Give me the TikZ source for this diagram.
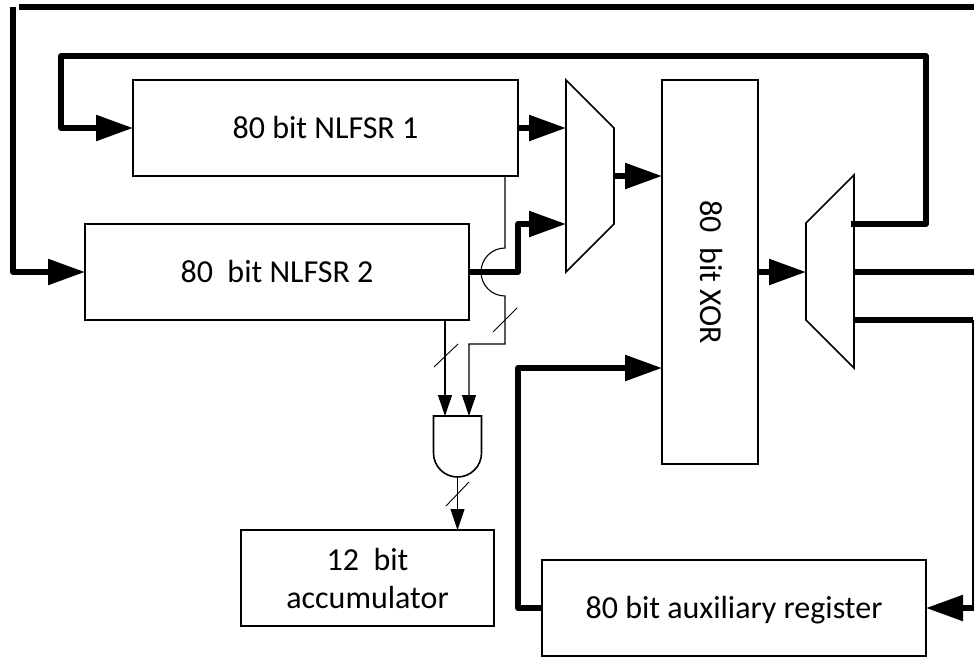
\documentclass[tikz,border=0pt]{standalone}
\usepackage{fontspec}
\setmainfont{Carlito}
\usetikzlibrary{arrows.meta,calc}
\tikzset{
  blockbox/.style={draw,line width=1.6pt,fill=white,inner sep=0pt,outer sep=0pt,align=center,font=\fontsize{32}{38}\selectfont},
  hidden/.style={inner sep=0pt,outer sep=0pt},
  shape line/.style={draw,line width=1.6pt,fill=white,line join=miter},
  bus/.style={line width=5.5pt,line join=round},
  busarrow/.style={bus,-{Triangle[length=37pt,width=25pt]}},
  wire/.style={line width=1.1pt},
  wirearrow/.style={wire,-{Triangle[length=21pt,width=14pt]}},
  slash/.style={line width=0.9pt}
}
\begin{document}
\begin{tikzpicture}[x=1pt,y=-1pt]
\useasboundingbox (0,0) rectangle (974,656);
% blocks
\node[blockbox,minimum width=385pt,minimum height=96pt] (n1) at (325.5,128) {80 bit NLFSR 1};
\node[blockbox,minimum width=384pt,minimum height=96pt] (n2) at (277,272) {80\ \ bit NLFSR 2};
\node[blockbox,minimum width=96pt,minimum height=384pt] (xor) at (710,272) {\hspace*{3pt}\rotatebox{-90}{80\ \ bit XOR}};
\node[blockbox,minimum width=253pt,minimum height=96pt] (acc) at (367.5,578) {12\ \ bit\\accumulator};
\node[blockbox,minimum width=384pt,minimum height=96pt,text height=21pt,text depth=0pt] (aux) at (734,608) {80 bit auxiliary register};
% multiplexers
\node[hidden,minimum width=48pt,minimum height=192pt] (m1) at (590,176) {};
\node[hidden,minimum width=48pt,minimum height=193pt] (m2) at (830,271.5) {};
\draw[shape line] (m1.north west) -- ($(m1.north east)+(0,48)$) -- ($(m1.south east)+(0,-48)$) -- (m1.south west) -- cycle;
\draw[shape line] (m2.north east) -- ($(m2.north west)+(0,48)$) -- ($(m2.south west)+(0,-48)$) -- (m2.south east) -- cycle;
% AND gate
\node[hidden,minimum width=48pt,minimum height=61pt] (g) at (457.5,446.5) {};
\draw[shape line] (g.north west) -- (g.north east) -- ($(g.north east)+(0,37)$) arc[start angle=0,end angle=180,radius=24] -- cycle;
% coordinates for connector ends
\coordinate (m1a) at ($(m1.north west)+(0,48)$);
\coordinate (m1b) at ($(m1.south west)+(0,-48)$);
\coordinate (m2t) at (851,224);
\coordinate (m2m) at (854,272);
\coordinate (m2b) at (854,320);
\coordinate (xa) at (662,368);
\coordinate (auxl) at (542,608);
\coordinate (edgeA) at (974,272);
\coordinate (edgeB) at (973,320);
\coordinate (edgeC) at (973,608);
\coordinate (edgeD) at (974,608);
\coordinate (topstart) at (19,7);
\coordinate (topend) at (974,7);
\coordinate (leftstart) at (13,7);
\coordinate (ga) at (445,416);
\coordinate (gb) at (469,416);
% thick buses
\draw[bus] (topstart) -- (topend);
\draw[busarrow] (leftstart) -- (13,272) -- (n2.west);
\draw[busarrow] (m2t) -- (926,224) -- (926,56) -- (61,56) -- (61,128) -- (n1.west);
\draw[busarrow] (n2.east) -- (518,272) -- (518,224) -- (m1b);
\draw[busarrow] (n1.east) -- (m1a);
\draw[busarrow] (m1.east) -- (m1.east -| xor.west);
\draw[busarrow] (xor.east) -- (xor.east -| m2.west);
\draw[bus] (m2m) -- (edgeA);
\draw[bus] (m2b) -- (edgeB);
\draw[wire] (edgeB) -- (edgeC);
\draw[busarrow] (edgeD) -- (aux.east |- edgeD);
\draw[busarrow] (auxl) -- (518,608) -- (518,368) -- (xa);
% thin wires
\draw[wirearrow] (445,320) -- (ga);
\draw[wirearrow] (505,176) -- (505,248) arc[start angle=-90,end angle=-270,radius=24] -- (505,344) -- (469,344) -- (gb);
\draw[wirearrow] (g.south) -- (acc.north -| g.south);
% bus-width slashes
\draw[slash] (493,332) -- (517,308);
\draw[slash] (434,367) -- (458,344);
\draw[slash] (446,506) -- (469,482);
\end{tikzpicture}
\end{document}
